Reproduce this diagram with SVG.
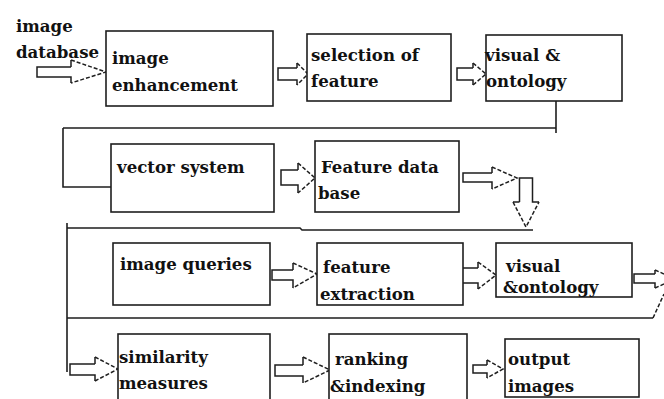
<svg xmlns="http://www.w3.org/2000/svg" width="664" height="399" viewBox="0 0 664 399">
<style>
.box{fill:#fff;stroke:#1e1e1e;stroke-width:1.6}
.t{font-family:"DejaVu Serif","Liberation Serif",serif;font-weight:bold;font-size:16.6px;fill:#111}
.ln{fill:none;stroke:#1e1e1e;stroke-width:1.6}
.sh{fill:#fff;stroke:#1e1e1e;stroke-width:1.5}
.hd{fill:none;stroke:#1e1e1e;stroke-width:1.5;stroke-dasharray:4 2}
</style>
<rect width="664" height="399" fill="#fff"/>
<g id="connectors">
<path class="ln" d="M556 101V133M63 128H556M63 128V187H111"/>
<path class="ln" d="M67 228H300L302 230H533M67 223V372M67 318H653"/>
<path class="hd" d="M653 318L664 294"/>
<path class="sh" d="M71 67H37V77H71V83"/><path class="sh" d="M71 67V60"/>
<path class="hd" d="M71 60L106 72L71 83"/>
<path class="sh" d="M297 68H278V80H297V85M297 68V63"/>
<path class="hd" d="M297 63L308 74L297 85"/>
<path class="sh" d="M473 68H457V80H473V85M473 68V63"/>
<path class="hd" d="M473 63L486 74L473 85"/>
<path class="sh" d="M298 170H281V185H298V193M298 170V163"/>
<path class="hd" d="M298 163L315 178L298 193"/>
<path class="sh" d="M492 173H463V182H492V189M492 173V167"/>
<path class="hd" d="M492 167L517 178L492 189"/>
<path class="sh" d="M519.5 202V178H532.5V202H539M519.5 202H513"/>
<path class="hd" d="M513 202L526 227L539 202"/>
<path class="sh" d="M293 270H272V280H293V288M293 270V263"/>
<path class="hd" d="M293 263L317 274L293 288"/>
<path class="sh" d="M478 268H459V283H478V289M478 268V262"/>
<path class="hd" d="M478 262L496 275L478 289"/>
<path class="sh" d="M655 274H634V283H655V288M655 274V270"/>
<path class="hd" d="M655 270L664 274M655 288L664 284"/>
<path class="sh" d="M95 364H70V375H95V381M95 364V357"/>
<path class="hd" d="M95 357L118 369L95 381"/>
<path class="sh" d="M303 365H275V376H303V383M303 365V357"/>
<path class="hd" d="M303 357L330 370L303 383"/>
<path class="sh" d="M487 365H473V373H487V378M487 365V360"/>
<path class="hd" d="M487 360L503 369L487 378"/>
</g>
<g id="src">
<text class="t" x="16" y="32">image</text>
<text class="t" x="16" y="58">database</text>
</g>
<g id="n1"><rect class="box" x="106" y="31" width="167" height="75"/>
<text class="t" x="112" y="64">image</text><text class="t" x="112" y="91">enhancement</text></g>
<g id="n2"><rect class="box" x="307" y="34" width="144" height="67"/>
<text class="t" x="311" y="61">selection of</text><text class="t" x="311" y="87">feature</text></g>
<g id="n3"><rect class="box" x="486" y="35" width="136" height="66"/>
<text class="t" x="485" y="61">visual &amp;</text><text class="t" x="486" y="87">ontology</text></g>
<g id="n4"><rect class="box" x="111" y="144" width="163" height="68"/>
<text class="t" x="117" y="173">vector system</text></g>
<g id="n5"><rect class="box" x="315" y="141" width="144" height="71"/>
<text class="t" x="321" y="173">Feature data</text><text class="t" x="318" y="199">base</text></g>
<g id="n6"><rect class="box" x="113" y="243" width="157" height="62"/>
<text class="t" x="120" y="270">image queries</text></g>
<g id="n7"><rect class="box" x="317" y="243" width="146" height="62"/>
<text class="t" x="323" y="273">feature</text><text class="t" x="320" y="300">extraction</text></g>
<g id="n8"><rect class="box" x="496" y="243" width="136" height="54"/>
<text class="t" x="506" y="272">visual</text><text class="t" x="503" y="293">&amp;ontology</text></g>
<g id="n9"><rect class="box" x="118" y="334" width="152" height="70"/>
<text class="t" x="119" y="363">similarity</text><text class="t" x="119" y="389">measures</text></g>
<g id="n10"><rect class="box" x="329" y="334" width="138" height="70"/>
<text class="t" x="335" y="365">ranking</text><text class="t" x="330" y="392">&amp;indexing</text></g>
<g id="n11"><rect class="box" x="505" y="339" width="134" height="58"/>
<text class="t" x="508" y="365">output</text><text class="t" x="508" y="392">images</text></g>
</svg>
